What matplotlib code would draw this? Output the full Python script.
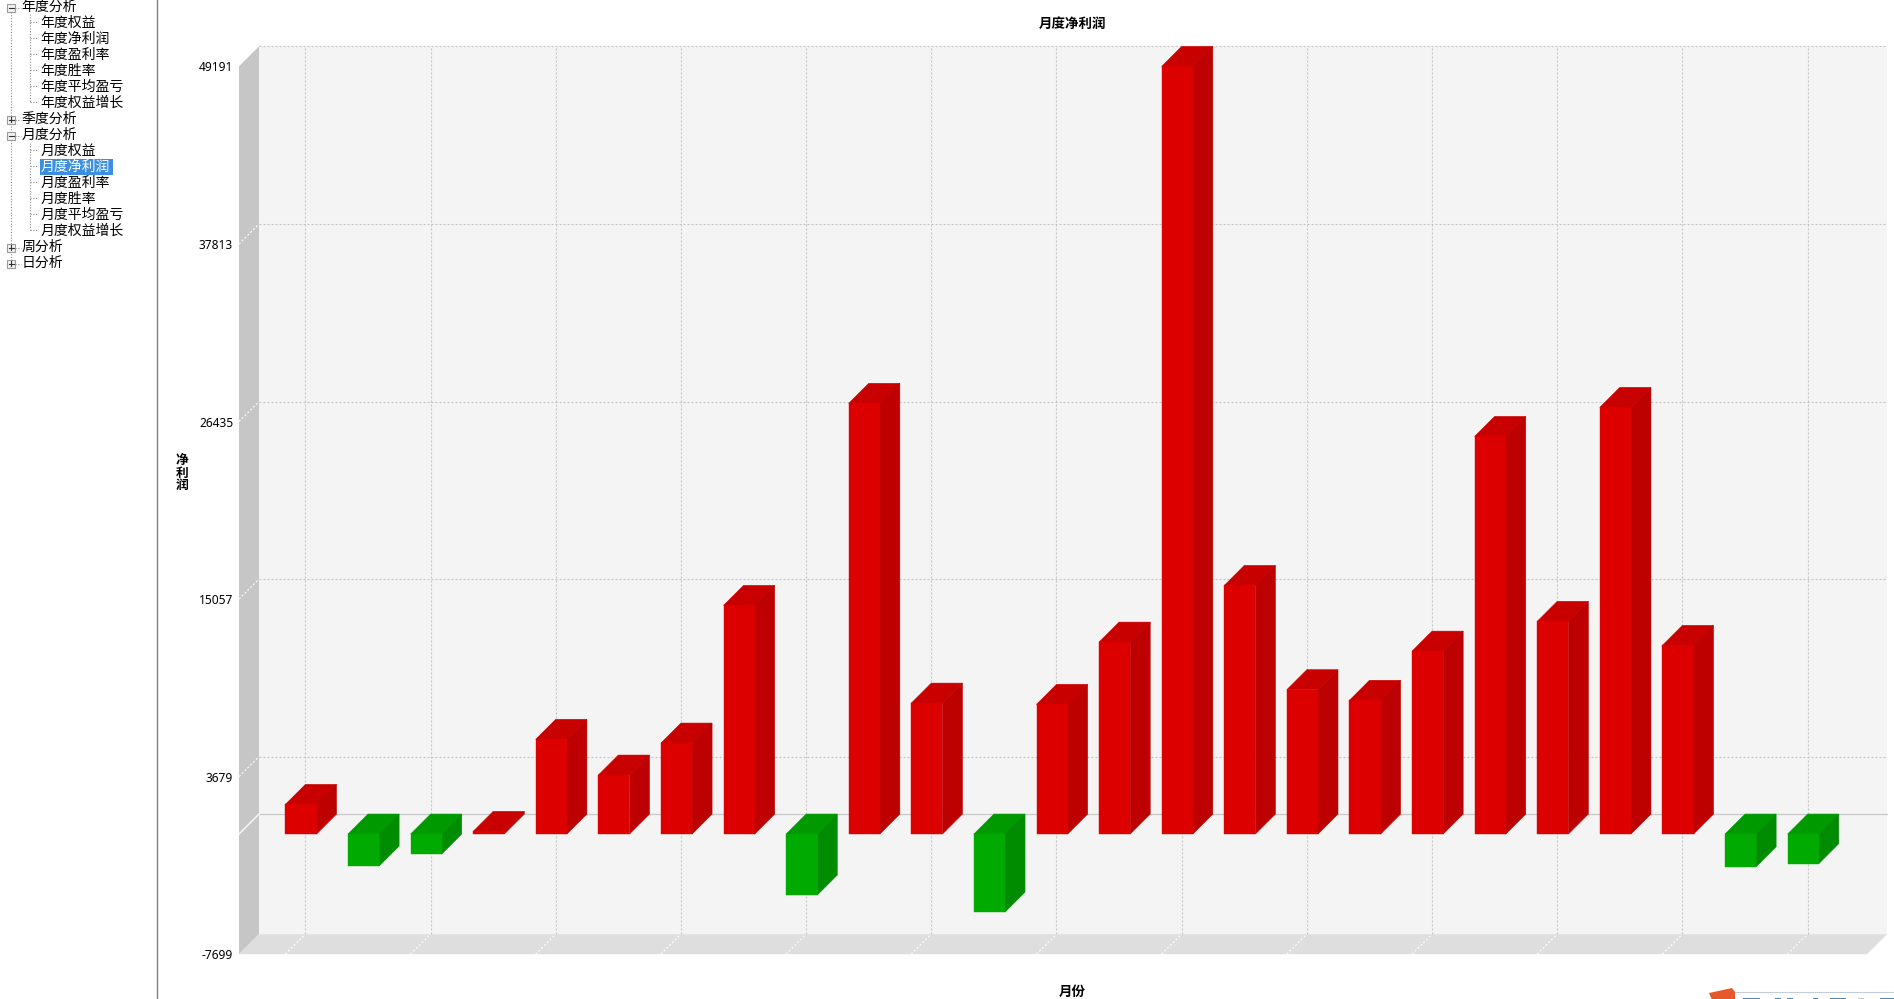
import numpy as np
import matplotlib
matplotlib.use('Agg')
import matplotlib.pyplot as plt

plt.rcParams['font.family'] = ['Noto Sans CJK SC', 'DejaVu Sans']

### DATA ###
# monthly net profit, one bar per month
profit = [1900, -2050, -1280, 170, 6070, 3780, 5830, 14650, -3910, 27600, 8390, -5000, 8310,
          12300, 49191, 15930, 9250, 8570, 11720, 25480, 13630, 27340, 12090, -2095, -1900]
yticks = [-7699, 3679, 15057, 26435, 37813, 49191]
xgrid = [-0.25, 1.75, 3.75, 5.75, 7.75, 9.75, 11.75, 13.75, 15.75, 17.75, 19.75, 21.75, 23.75]
title = '月度净利润'
xlabel = '月份'
ylabel = '净\n利\n润'

# sidebar tree: (text, level)
tree_rows = [('年度分析', 0), ('年度权益', 1), ('年度净利润', 1), ('年度盈利率', 1), ('年度胜率', 1),
             ('年度平均盈亏', 1), ('年度权益增长', 1), ('季度分析', 0), ('月度分析', 0), ('月度权益', 1),
             ('月度净利润', 1), ('月度盈利率', 1), ('月度胜率', 1), ('月度平均盈亏', 1), ('月度权益增长', 1),
             ('周分析', 0), ('日分析', 0)]
selected = '月度净利润'
opened = ['年度分析', '月度分析']

### FIGURE ###
W, H = 1894, 999
fig = plt.figure(figsize=(W/100, H/100), dpi=100, facecolor='white')

# page layer in pixel coords, for the sidebar and the cut off logo
page = fig.add_axes([0, 0, 1, 1])
page.set_xlim(0, W)
page.set_ylim(H, 0)
page.axis('off')

page.plot([157, 157], [0, H], color='#808080', lw=1)

dot = dict(color='#8c8c8c', lw=0.8, ls=(0, (1, 1.5)))
page.plot([10.5, 10.5], [12, 263], **dot)
page.plot([29.5, 29.5], [14, 103], **dot)
page.plot([29.5, 29.5], [143, 231], **dot)

for i, (name, level) in enumerate(tree_rows):
    y = 6 + i*16
    if level == 0:
        page.plot([15, 21], [y+1.5, y+1.5], **dot)
        page.add_patch(plt.Rectangle((7, y-2.5), 8, 8, fc='#f2f2f2', ec='#9a9a9a', lw=0.8, zorder=3))
        page.plot([8.5, 13.5], [y+1.5, y+1.5], color='#333333', lw=0.8, zorder=4)
        if name not in opened:
            page.plot([11, 11], [y-1, y+4], color='#333333', lw=0.8, zorder=4)
        page.text(21.5, y+1, name, fontsize=10, va='center', ha='left', color='black')
    else:
        page.plot([29.5, 38], [y, y], **dot)
        c = 'black'
        if name == selected:
            page.add_patch(plt.Rectangle((39.5, y-7), 73.5, 16, fc='#3b8ee0', ec='none'))
            c = 'white'
        page.text(40.5, y+1, name, fontsize=10, va='center', ha='left', color=c)

# logo at the bottom edge, only its top shows
page.plot([1735, W], [991.5, 991.5], color='#c4ced8', lw=0.8)
page.fill([1709, 1732, 1735, 1735, 1712], [993, 988, 992, 1000, 1000], color='#e8582c', lw=0)
for x0, x1, c in [(1743, 1760, '#4a88c0'), (1775, 1781, '#4a88c0'), (1787, 1793, '#4a88c0'),
                  (1813, 1818, '#4a88c0'), (1830, 1846, '#4a88c0'), (1858, 1864, '#c0c8d0'),
                  (1880, 1894, '#4a88c0')]:
    page.add_patch(plt.Rectangle((x0, 998), x1-x0, 2, fc=c, ec='none'))

# chart axes cover the front plane of the 3d box
ax_left, ax_right, ax_top, ax_bottom = 239, 1867, 66.4, 954.2
ax = fig.add_axes([ax_left/W, (H-ax_bottom)/H, (ax_right-ax_left)/W, (ax_bottom-ax_top)/H])
ax.patch.set_visible(False)
for s in ax.spines.values():
    s.set_visible(False)

x = np.arange(len(profit))
ymin, ymax = yticks[0], yticks[-1]
ax.set_xlim(-0.99, 25.02)
ax.set_ylim(ymin, ymax)
xmin, xmax = ax.get_xlim()

# 3d depth is 20 pixels, convert to data units
depth = 20
dx = depth*(xmax-xmin)/(ax_right-ax_left)
dy = depth*(ymax-ymin)/(ax_bottom-ax_top)

# walls
ax.fill([xmin+dx, xmax+dx, xmax+dx, xmin+dx], [ymin+dy, ymin+dy, ymax+dy, ymax+dy],
        color='#f4f4f4', lw=0, clip_on=False, zorder=0)
ax.fill([xmin, xmin+dx, xmin+dx, xmin], [ymin, ymin+dy, ymax+dy, ymax],
        color='#c6c6c6', lw=0, clip_on=False, zorder=0.1)
ax.fill([xmin, xmax, xmax+dx, xmin+dx], [ymin, ymin, ymin+dy, ymin+dy],
        color='#dedede', lw=0, clip_on=False, zorder=0.1)

# grid on the back wall, white dashes where it folds over the side wall and floor
dash = (0, (1.8, 1.8))
ax.hlines(np.array(yticks[1:])+dy, xmin+dx, xmax+dx, color='#c4c4c4', lw=0.8, linestyles=[dash], clip_on=False, zorder=0.5)
ax.vlines(np.array(xgrid)+dx, ymin+dy, ymax+dy, color='#c4c4c4', lw=0.8, linestyles=[dash], clip_on=False, zorder=0.5)
for t in yticks[1:-1]:
    ax.plot([xmin, xmin+dx], [t, t+dy], color='white', lw=0.8, ls=dash, clip_on=False, zorder=0.6)
for g in xgrid:
    ax.plot([g, g+dx], [ymin, ymin+dy], color='white', lw=0.8, ls=dash, clip_on=False, zorder=0.6)

# zero line
ax.plot([xmin+dx, xmax+dx], [dy, dy], color='#c8c8c8', lw=0.9, clip_on=False, zorder=0.7)
ax.plot([xmin, xmin+dx], [0, dy], color='white', lw=0.9, clip_on=False, zorder=0.7)

# bars: front face from ax.bar, top and side faces offset by the depth
# thin same colour edges so no seams show between the faces
bar_width = 0.497
front = ['#dd0000' if v >= 0 else '#00aa00' for v in profit]
side = ['#bd0000' if v >= 0 else '#008c00' for v in profit]
top = ['#c80000' if v >= 0 else '#009a00' for v in profit]
for i, v in enumerate(profit):
    l, r = x[i]-bar_width/2, x[i]+bar_width/2
    ytop = max(v, 0)
    ax.fill([l, r, r+dx, l+dx], [ytop, ytop, ytop+dy, ytop+dy], fc=top[i], ec=top[i], lw=0.4, clip_on=False, zorder=2)
    ax.fill([r, r+dx, r+dx, r], [0, dy, v+dy, v], fc=side[i], ec=side[i], lw=0.4, clip_on=False, zorder=2.1)
ax.bar(x, profit, width=bar_width, color=front, edgecolor=front, lw=0.3, clip_on=False, zorder=3)

# ticks and labels
ax.set_xticks([])
ax.set_yticks(yticks)
ax.set_yticklabels([str(t) for t in yticks], family='Noto Sans', fontsize=8.6, color='black')
ax.tick_params(axis='y', length=0, pad=4.3)

ax.set_title(title, fontsize=9.7, fontweight='bold', x=0.5117, y=(ax_bottom-24)/(ax_bottom-ax_top), pad=0, va='center', color='black')
ax.set_xlabel(xlabel, fontsize=9.7, fontweight='bold', va='center', color='black')
ax.xaxis.set_label_coords(0.5117, (ax_bottom-992)/(ax_bottom-ax_top))
ax.set_ylabel(ylabel, fontsize=9.2, fontweight='bold', rotation=0, ha='center', va='center', linespacing=0.95, color='black')
ax.yaxis.set_label_coords((182-ax_left)/(ax_right-ax_left), (ax_bottom-473)/(ax_bottom-ax_top))

fig.savefig('out.png', dpi=100)
